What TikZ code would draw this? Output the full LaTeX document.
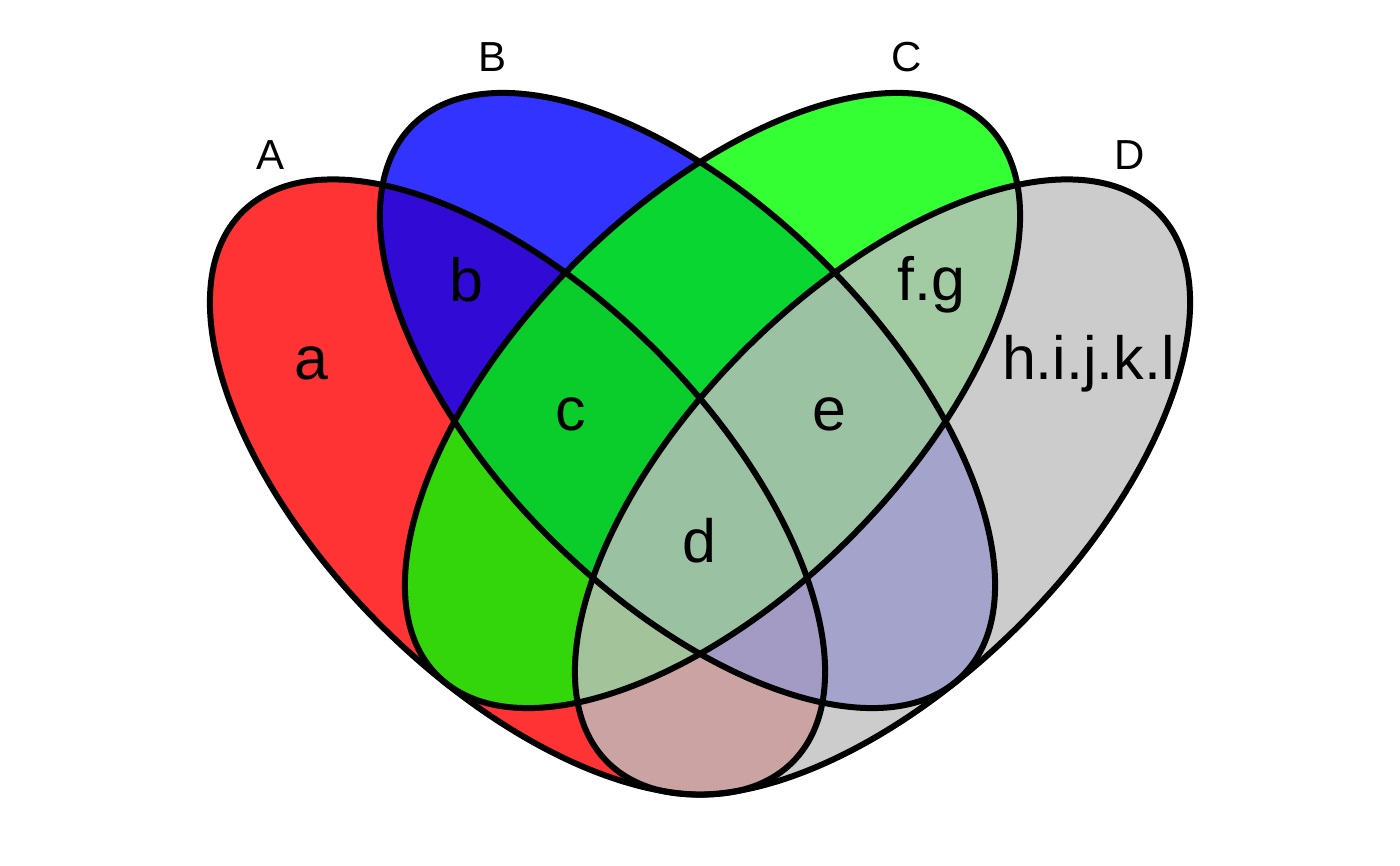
\documentclass[tikz,border=0pt]{standalone}
\usepackage{fontspec}
\setmainfont{Liberation Sans}
\begin{document}
\begin{tikzpicture}[x=1pt,y=1pt,
  outline/.style={draw=black,line width=6pt},
  setfill/.style={fill opacity=0.8},
  setlabel/.style={anchor=base,inner sep=0pt,font=\fontsize{42}{42}\selectfont},
  reglabel/.style={anchor=base,inner sep=0pt,font=\fontsize{61}{61}\selectfont}]
\definecolor{setA}{RGB}{255,0,0}
\definecolor{setB}{RGB}{0,0,255}
\definecolor{setC}{RGB}{0,255,0}
\definecolor{setD}{RGB}{191,191,191}
\useasboundingbox (0,0) rectangle (1400,-866);
% fills
\fill[setA,setfill,rotate around={-45:(517.5,-487)}] (517.5,-487) ellipse [x radius=389pt,y radius=194.5pt];
\fill[setB,setfill,rotate around={-45:(687.5,-400.5)}] (687.5,-400.5) ellipse [x radius=389pt,y radius=194.5pt];
\fill[setC,setfill,rotate around={45:(712.5,-400.5)}] (712.5,-400.5) ellipse [x radius=389pt,y radius=194.5pt];
\fill[setD,setfill,rotate around={45:(882.5,-487)}] (882.5,-487) ellipse [x radius=389pt,y radius=194.5pt];
% outlines
\draw[outline,rotate around={-45:(517.5,-487)}] (517.5,-487) ellipse [x radius=389pt,y radius=194.5pt];
\draw[outline,rotate around={-45:(687.5,-400.5)}] (687.5,-400.5) ellipse [x radius=389pt,y radius=194.5pt];
\draw[outline,rotate around={45:(712.5,-400.5)}] (712.5,-400.5) ellipse [x radius=389pt,y radius=194.5pt];
\draw[outline,rotate around={45:(882.5,-487)}] (882.5,-487) ellipse [x radius=389pt,y radius=194.5pt];
% set labels
\node[setlabel] (labA) at (271,-169.5) {A};
\node[setlabel] (labB) at (493,-72) {B};
\node[setlabel] (labC) at (907,-72) {C};
\node[setlabel] (labD) at (1129.5,-169.5) {D};
% region labels
\node[reglabel] (rega) at (311,-380) {a};
\node[reglabel] (regb) at (466,-302) {b};
\node[reglabel] (regc) at (570.5,-430) {c};
\node[reglabel] (regd) at (699,-562) {d};
\node[reglabel] (rege) at (829.5,-430) {e};
\node[reglabel] (regfg) at (931.5,-301) {f.g};
\node[reglabel] (regh) at (1088.5,-380) {h.i.j.k.l};
\end{tikzpicture}
\end{document}
